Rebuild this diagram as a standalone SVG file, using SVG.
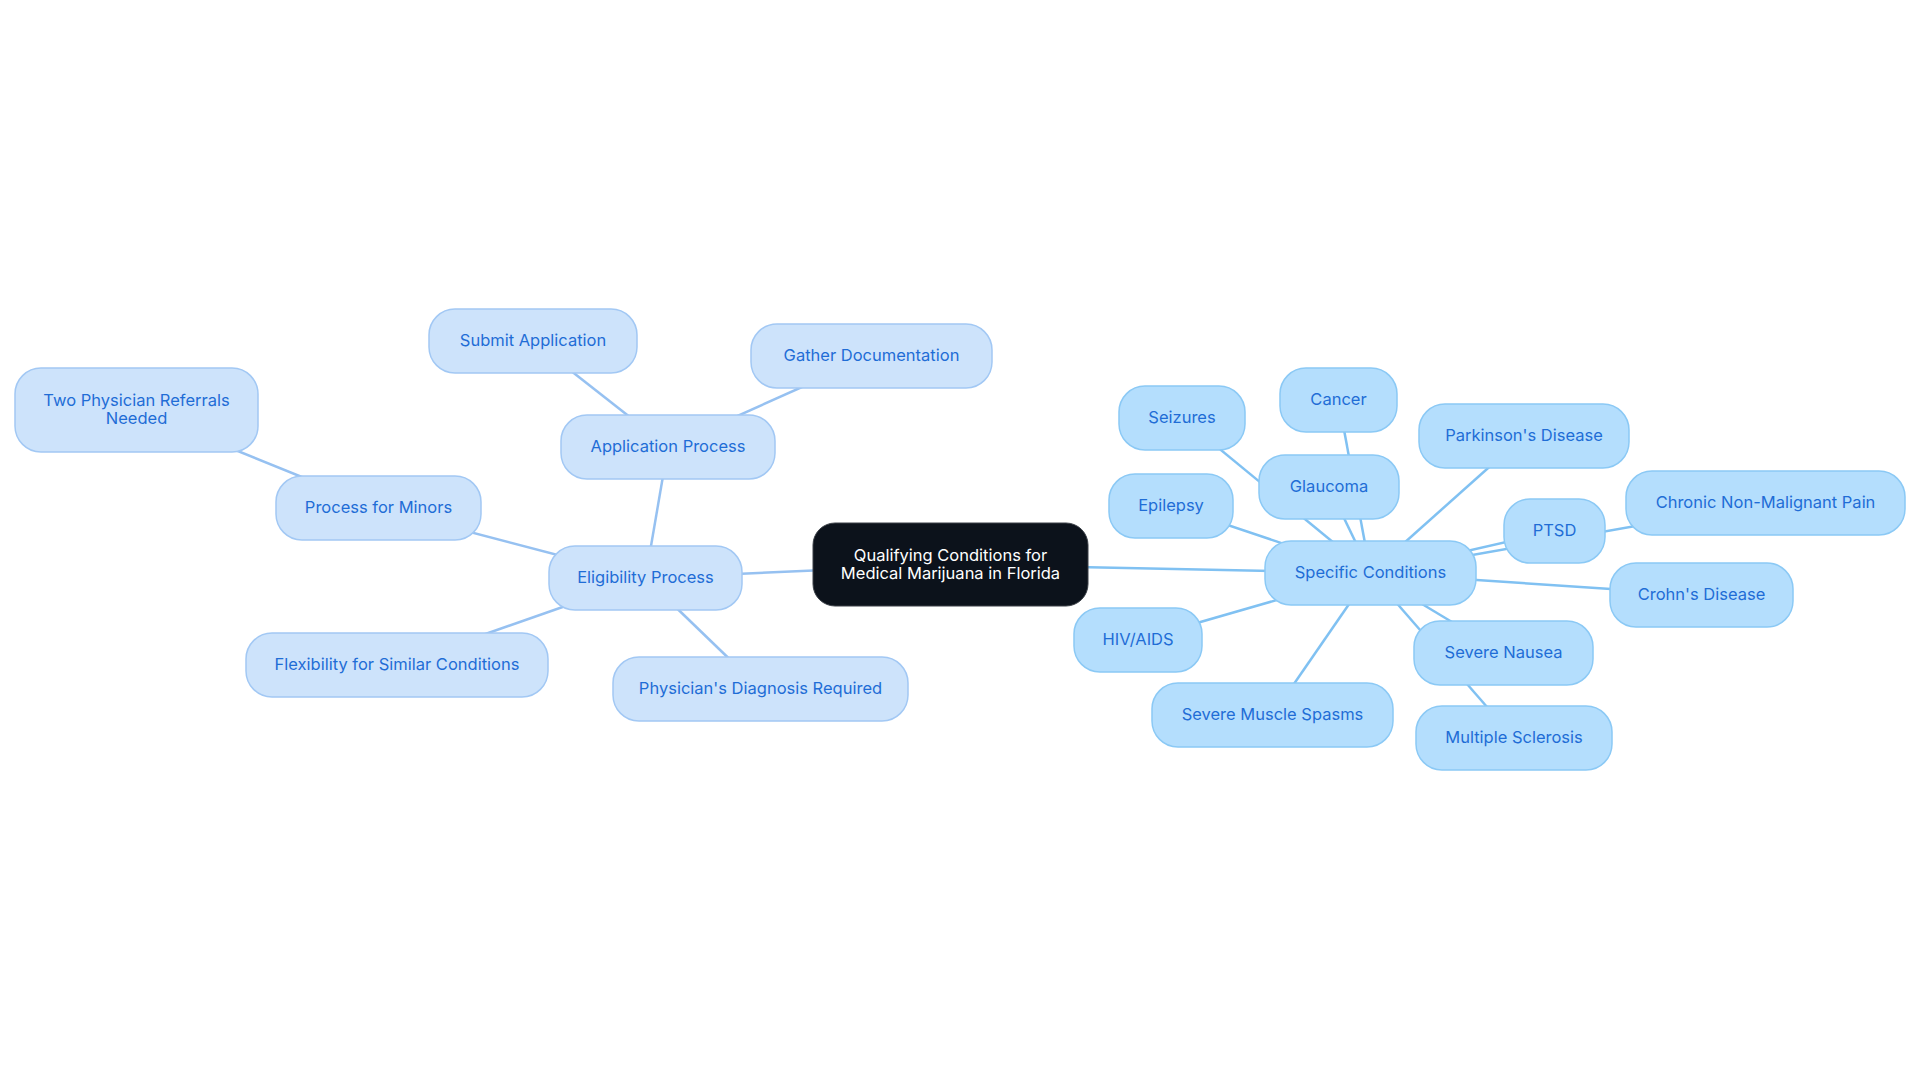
<svg xmlns="http://www.w3.org/2000/svg" width="1920" height="1083" viewBox="0 0 1920 1083">
<style>
.bg{fill:#ffffff}
.e1{stroke:#96c1f1;stroke-width:2.5;fill:none}
.e2{stroke:#80c1f2;stroke-width:2.5;fill:none}
.n1 rect{fill:#cde3fb;stroke:#a2c8f4;stroke-width:1.5}
.n2 rect{fill:#b4defd;stroke:#8bc9f5;stroke-width:1.5}
.n0 rect{fill:#0c121b;stroke:#3a3f46;stroke-width:1}
text{font-family:Inter,"Liberation Sans",sans-serif;font-size:16.5px;text-anchor:middle;dominant-baseline:central}
.n1 text,.n2 text{fill:#1f6dd6}
.n0 text{fill:#ffffff}
</style>
<rect class="bg" x="0" y="0" width="1920" height="1083"/>
<g id="connectors">
<line class="e1" x1="950.5" y1="564.5" x2="645.5" y2="578"/>
<line class="e1" x1="645.5" y1="578" x2="668" y2="447"/>
<line class="e1" x1="668" y1="447" x2="533" y2="341"/>
<line class="e1" x1="668" y1="447" x2="871.5" y2="356"/>
<line class="e1" x1="645.5" y1="578" x2="378.5" y2="508"/>
<line class="e1" x1="378.5" y1="508" x2="136.5" y2="410"/>
<line class="e1" x1="645.5" y1="578" x2="397" y2="665"/>
<line class="e1" x1="645.5" y1="578" x2="760.5" y2="689"/>
<line class="e2" x1="950.5" y1="564.5" x2="1370.5" y2="573"/>
<line class="e2" x1="1370.5" y1="573" x2="1182" y2="418"/>
<line class="e2" x1="1370.5" y1="573" x2="1338.5" y2="400"/>
<line class="e2" x1="1370.5" y1="573" x2="1524" y2="436"/>
<line class="e2" x1="1370.5" y1="573" x2="1329" y2="487"/>
<line class="e2" x1="1370.5" y1="573" x2="1171" y2="506"/>
<line class="e2" x1="1370.5" y1="573" x2="1765.5" y2="503"/>
<line class="e2" x1="1370.5" y1="573" x2="1554.5" y2="531"/>
<line class="e2" x1="1370.5" y1="573" x2="1701.5" y2="595"/>
<line class="e2" x1="1370.5" y1="573" x2="1138" y2="640"/>
<line class="e2" x1="1370.5" y1="573" x2="1503.5" y2="653"/>
<line class="e2" x1="1370.5" y1="573" x2="1272.5" y2="715"/>
<line class="e2" x1="1370.5" y1="573" x2="1514" y2="738"/>
</g>
<g id="root" class="n0"><rect x="813" y="523" width="275" height="83" rx="22"/><text x="950.5" y="555">Qualifying Conditions for</text><text x="950.5" y="573">Medical Marijuana in Florida</text></g>
<g id="eligibility" class="n1"><rect x="549" y="546" width="193" height="64" rx="26"/><text x="645.5" y="577">Eligibility Process</text></g>
<g id="application" class="n1"><rect x="561" y="415" width="214" height="64" rx="26"/><text x="668" y="446">Application Process</text></g>
<g id="submit" class="n1"><rect x="429" y="309" width="208" height="64" rx="26"/><text x="533" y="340">Submit Application</text></g>
<g id="gather" class="n1"><rect x="751" y="324" width="241" height="64" rx="26"/><text x="871.5" y="355">Gather Documentation</text></g>
<g id="minors" class="n1"><rect x="276" y="476" width="205" height="64" rx="26"/><text x="378.5" y="507">Process for Minors</text></g>
<g id="referrals" class="n1"><rect x="15" y="368" width="243" height="84" rx="26"/><text x="136.5" y="400">Two Physician Referrals</text><text x="136.5" y="418">Needed</text></g>
<g id="flexibility" class="n1"><rect x="246" y="633" width="302" height="64" rx="26"/><text x="397" y="664">Flexibility for Similar Conditions</text></g>
<g id="diagnosis" class="n1"><rect x="613" y="657" width="295" height="64" rx="26"/><text x="760.5" y="688">Physician's Diagnosis Required</text></g>
<g id="specific" class="n2"><rect x="1265" y="541" width="211" height="64" rx="26"/><text x="1370.5" y="572">Specific Conditions</text></g>
<g id="seizures" class="n2"><rect x="1119" y="386" width="126" height="64" rx="26"/><text x="1182" y="417">Seizures</text></g>
<g id="cancer" class="n2"><rect x="1280" y="368" width="117" height="64" rx="26"/><text x="1338.5" y="399">Cancer</text></g>
<g id="parkinsons" class="n2"><rect x="1419" y="404" width="210" height="64" rx="26"/><text x="1524" y="435">Parkinson's Disease</text></g>
<g id="glaucoma" class="n2"><rect x="1259" y="455" width="140" height="64" rx="26"/><text x="1329" y="486">Glaucoma</text></g>
<g id="epilepsy" class="n2"><rect x="1109" y="474" width="124" height="64" rx="26"/><text x="1171" y="505">Epilepsy</text></g>
<g id="chronic" class="n2"><rect x="1626" y="471" width="279" height="64" rx="26"/><text x="1765.5" y="502">Chronic Non-Malignant Pain</text></g>
<g id="ptsd" class="n2"><rect x="1504" y="499" width="101" height="64" rx="26"/><text x="1554.5" y="530">PTSD</text></g>
<g id="crohns" class="n2"><rect x="1610" y="563" width="183" height="64" rx="26"/><text x="1701.5" y="594">Crohn's Disease</text></g>
<g id="hiv" class="n2"><rect x="1074" y="608" width="128" height="64" rx="26"/><text x="1138" y="639">HIV/AIDS</text></g>
<g id="nausea" class="n2"><rect x="1414" y="621" width="179" height="64" rx="26"/><text x="1503.5" y="652">Severe Nausea</text></g>
<g id="spasms" class="n2"><rect x="1152" y="683" width="241" height="64" rx="26"/><text x="1272.5" y="714">Severe Muscle Spasms</text></g>
<g id="ms" class="n2"><rect x="1416" y="706" width="196" height="64" rx="26"/><text x="1514" y="737">Multiple Sclerosis</text></g>
</svg>
